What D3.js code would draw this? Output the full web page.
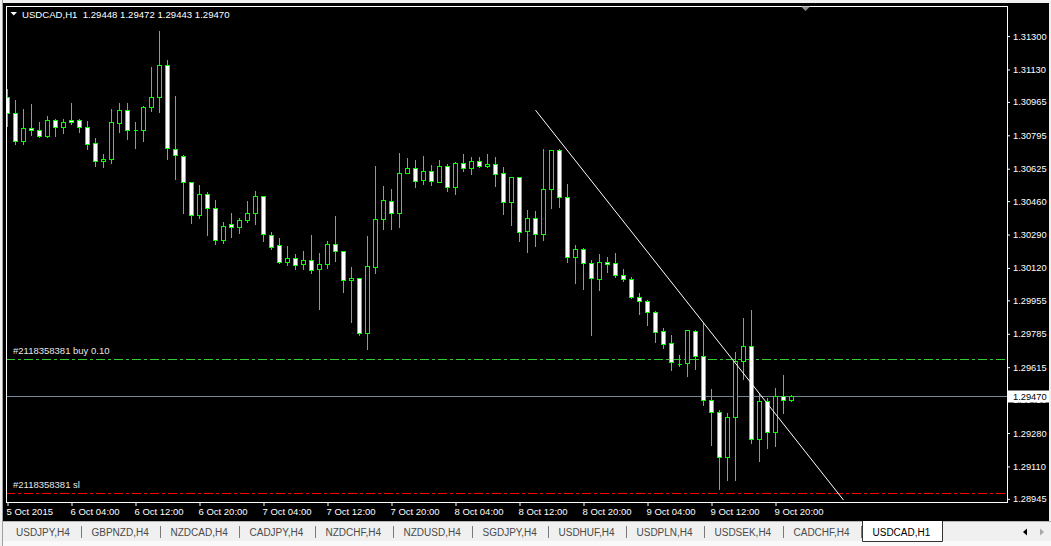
<!DOCTYPE html>
<html><head><meta charset="utf-8">
<script src="https://cdn.jsdelivr.net/npm/d3@7"></script>
<style>
html,body{margin:0;padding:0;background:#f0f0f0;overflow:hidden}
svg{display:block}
text{font-family:"Liberation Sans",Arial,sans-serif}
</style></head><body>
<svg id="c" width="1051" height="546"></svg>
<script>
// ---------- data ----------
const symbol = "USDCAD,H1";
const opens = [1.30988,1.30907,1.30767,1.30830,1.30820,1.30793,1.30873,1.30835,1.30873,1.30873,
1.30835,1.30754,1.30662,1.30673,1.30856,1.30923,1.30820,1.30820,1.30937,1.30988,
1.31151,1.30723,1.30688,1.30559,1.30388,1.30494,1.30423,1.30260,1.30345,1.30327,
1.30362,1.30398,1.30484,1.30286,1.30235,1.30148,1.30169,1.30138,1.30159,1.30113,
1.30138,1.30240,1.30204,1.30057,1.30067,1.29787,1.30123,1.30367,1.30459,1.30398,
1.30601,1.30627,1.30566,1.30611,1.30556,1.30637,1.30530,1.30652,1.30627,1.30662,
1.30637,1.30647,1.30601,1.30454,1.30581,1.30306,1.30372,1.30291,1.30520,1.30718,
1.30479,1.30174,1.30215,1.30143,1.30062,1.30148,1.30143,1.30082,1.30062,1.29970,
1.29950,1.29894,1.29797,1.29736,1.29633,1.29634,1.29797,1.29670,1.29446,1.29385,
1.29156,1.29360,1.29645,1.29721,1.29248,1.29441,1.29283,1.29466,1.29448];
const highs = [1.31030,1.30974,1.30929,1.30954,1.30862,1.30893,1.30878,1.30878,1.30959,1.30878,
1.30866,1.30779,1.30698,1.30929,1.30959,1.30959,1.30862,1.30942,1.31142,1.31325,
1.31176,1.30993,1.30694,1.30559,1.30540,1.30505,1.30464,1.30353,1.30399,1.30372,
1.30459,1.30510,1.30484,1.30303,1.30272,1.30231,1.30189,1.30206,1.30287,1.30196,
1.30257,1.30384,1.30204,1.30124,1.30067,1.30282,1.30638,1.30537,1.30520,1.30705,
1.30679,1.30669,1.30688,1.30642,1.30667,1.30647,1.30657,1.30700,1.30683,1.30683,
1.30700,1.30683,1.30632,1.30581,1.30581,1.30414,1.30408,1.30723,1.30718,1.30723,
1.30545,1.30235,1.30220,1.30159,1.30189,1.30174,1.30194,1.30113,1.30072,1.29991,
1.29955,1.29899,1.29812,1.29777,1.29675,1.29802,1.29802,1.29838,1.29504,1.29395,
1.29380,1.29690,1.29865,1.29904,1.29477,1.29456,1.29507,1.29573,1.29472];
const lows = [1.30844,1.30752,1.30752,1.30796,1.30788,1.30788,1.30793,1.30808,1.30854,1.30813,
1.30727,1.30640,1.30635,1.30655,1.30813,1.30777,1.30732,1.30767,1.30918,1.30915,
1.30676,1.30574,1.30401,1.30350,1.30375,1.30289,1.30243,1.30248,1.30279,1.30299,
1.30355,1.30345,1.30259,1.30218,1.30143,1.30136,1.30116,1.30116,1.30095,1.29912,
1.30121,1.30157,1.29999,1.29846,1.29780,1.29709,1.30095,1.30319,1.30316,1.30327,
1.30601,1.30530,1.30545,1.30540,1.30556,1.30510,1.30494,1.30611,1.30596,1.30632,
1.30632,1.30535,1.30393,1.30340,1.30255,1.30203,1.30230,1.30260,1.30423,1.30428,
1.30148,1.30044,1.30014,1.29777,1.30009,1.30098,1.30072,1.30052,1.29965,1.29884,
1.29828,1.29745,1.29715,1.29600,1.29622,1.29571,1.29607,1.29424,1.29220,1.28996,
1.29042,1.29042,1.29556,1.29230,1.29139,1.29205,1.29215,1.29383,1.29443];
const closes = [1.30907,1.30767,1.30830,1.30820,1.30793,1.30873,1.30835,1.30861,1.30861,1.30835,
1.30749,1.30662,1.30673,1.30861,1.30923,1.30820,1.30820,1.30937,1.30988,1.31151,
1.30729,1.30693,1.30559,1.30388,1.30494,1.30423,1.30260,1.30332,1.30327,1.30362,
1.30398,1.30484,1.30291,1.30228,1.30148,1.30169,1.30133,1.30159,1.30108,1.30138,
1.30240,1.30204,1.30057,1.30067,1.29787,1.30128,1.30367,1.30464,1.30398,1.30601,
1.30627,1.30561,1.30611,1.30561,1.30637,1.30530,1.30652,1.30627,1.30662,1.30637,
1.30647,1.30596,1.30454,1.30581,1.30301,1.30372,1.30291,1.30520,1.30718,1.30479,
1.30174,1.30215,1.30143,1.30067,1.30148,1.30138,1.30082,1.30062,1.29970,1.29950,
1.29894,1.29796,1.29731,1.29640,1.29629,1.29802,1.29670,1.29446,1.29385,1.29156,
1.29360,1.29645,1.29721,1.29248,1.29441,1.29283,1.29466,1.29446,1.29470];

const timeTickIndex = [0,8,16,24,32,40,48,56,64,72,80,88,96];
const timeTickLabels = ["5 Oct 2015","6 Oct 04:00","6 Oct 12:00","6 Oct 20:00","7 Oct 04:00",
  "7 Oct 12:00","7 Oct 20:00","8 Oct 04:00","8 Oct 12:00","8 Oct 20:00","9 Oct 04:00",
  "9 Oct 12:00","9 Oct 20:00"];
const priceTicks = [1.31300,1.31130,1.30965,1.30795,1.30625,1.30460,1.30290,1.30120,
  1.29955,1.29785,1.29615,1.29450,1.29280,1.29110,1.28945];

const bidLevel = 1.29470;
const buyLevel = 1.29655;
const slLevel = 1.28976;
const buyLabel = "#2118358381 buy 0.10";
const slLabel = "#2118358381 sl";
const trendStart = [66, 1.30923];
const trendEnd = [104.5, 1.28939];

const tabNames = ["USDJPY,H4","GBPNZD,H4","NZDCAD,H4","CADJPY,H4","NZDCHF,H4","NZDUSD,H4",
  "SGDJPY,H4","USDHUF,H4","USDPLN,H4","USDSEK,H4","CADCHF,H4"];
const activeTab = "USDCAD,H1";

// ---------- layout ----------
const W = 1051, H = 546;
const L = 6, R = 1007, T = 6, B = 502;
const GREEN = "#00ff00";

const svg = d3.select("#c");
const bars = opens.map((o, i) => ({i, o, h: highs[i], l: lows[i], c: closes[i]}));

const x = d3.scaleLinear().domain([0, bars.length - 1]).range([7.5, 7.5 + 8 * (bars.length - 1)]);
const y = d3.scaleLinear().domain([1.28929, 1.31453]).range([B, T]);

// window background
svg.append("rect").attr("width", W).attr("height", H).attr("fill", "#f0f0f0");
svg.append("rect").attr("x", 3).attr("y", 3).attr("width", 1046).attr("height", 518).attr("fill", "#000");
svg.append("line").attr("x1", 2.5).attr("x2", 2.5).attr("y1", 0).attr("y2", H).attr("stroke", "#a0a0a0");

// clip
svg.append("defs").append("clipPath").attr("id", "plotclip")
  .append("rect").attr("x", L + 1).attr("y", T + 1).attr("width", R - L - 1).attr("height", B - T - 1);

const plot = svg.append("g").attr("clip-path", "url(#plotclip)");

const snap = v => Math.round(y(v)) + 0.5;

// horizontal level lines
plot.append("line").attr("x1", L).attr("x2", R).attr("y1", snap(buyLevel)).attr("y2", snap(buyLevel))
  .attr("stroke", "#32cd32").attr("stroke-dasharray", "9,3,3,3");
plot.append("line").attr("x1", L).attr("x2", R).attr("y1", snap(slLevel)).attr("y2", snap(slLevel))
  .attr("stroke", "#ff0000").attr("stroke-dasharray", "9,3,3,3");
plot.append("line").attr("x1", L).attr("x2", R).attr("y1", snap(bidLevel)).attr("y2", snap(bidLevel))
  .attr("stroke", "#778899");

// candles
const cg = plot.append("g").attr("shape-rendering", "crispEdges");
cg.selectAll("line.wick").data(bars).join("line").attr("class", "wick")
  .attr("x1", d => x(d.i)).attr("x2", d => x(d.i))
  .attr("y1", d => Math.round(y(d.h))).attr("y2", d => Math.round(y(d.l)) + 1)
  .attr("stroke", GREEN);
cg.selectAll("path.body").data(bars).join("path").attr("class", "body")
  .attr("d", d => {
    const cx = x(d.i);
    const t = snap(Math.max(d.o, d.c)), b = snap(Math.min(d.o, d.c));
    return `M${cx - 2},${t}H${cx + 2}V${b}H${cx - 2}Z`;
  })
  .attr("fill", d => d.c > d.o ? "#000" : "#fff")
  .attr("stroke", GREEN);

// trend line
plot.append("line")
  .attr("x1", x(trendStart[0])).attr("y1", y(trendStart[1]))
  .attr("x2", x(trendEnd[0])).attr("y2", y(trendEnd[1]))
  .attr("stroke", "#fff").attr("stroke-width", 1);

// order labels
svg.append("text").attr("x", 13).attr("y", snap(buyLevel) - 6).text(buyLabel)
  .attr("fill", "#e6e6e6").attr("font-size", "9.5px");
svg.append("text").attr("x", 13).attr("y", snap(slLevel) - 6).text(slLabel)
  .attr("fill", "#e6e6e6").attr("font-size", "9.5px");

// frame
svg.append("rect").attr("x", L + 0.5).attr("y", T + 0.5).attr("width", R - L).attr("height", B - T)
  .attr("fill", "none").attr("stroke", "#fff");

// shift marker
svg.append("path").attr("d", "M801,6.5L810,6.5L805.5,11Z").attr("fill", "#8a8a8a");

// right axis
const ya = svg.append("g").attr("transform", `translate(${R},0)`)
  .call(d3.axisRight(y).tickValues(priceTicks).tickFormat(d3.format(".5f")).tickSizeInner(3).tickSizeOuter(0).tickPadding(3));
ya.select(".domain").remove();
ya.selectAll("line").attr("stroke", "#fff");
ya.selectAll("text").attr("fill", "#fff").attr("font-size", "9.3px").attr("font-family", '"Liberation Sans",Arial,sans-serif');

// price box
const pb = snap(bidLevel);
svg.append("rect").attr("x", R + 1).attr("y", pb - 6).attr("width", 41).attr("height", 12).attr("fill", "#fff");
svg.append("text").attr("x", R + 6).attr("y", pb).attr("dy", "0.35em").text(d3.format(".5f")(bidLevel))
  .attr("fill", "#000").attr("font-size", "9.3px");

// bottom axis
const xa = svg.append("g").attr("transform", `translate(0,${B})`)
  .call(d3.axisBottom(x).tickValues(timeTickIndex).tickFormat((d, i) => timeTickLabels[i]).tickSizeInner(4).tickSizeOuter(0).tickPadding(2));
xa.select(".domain").remove();
xa.selectAll("line").attr("stroke", "#fff");
xa.selectAll("text").attr("fill", "#fff").attr("font-size", "9.5px").attr("text-anchor", "start").attr("x", -1.5)
  .attr("font-family", '"Liberation Sans",Arial,sans-serif');

// title
svg.append("path").attr("d", "M10.5,12L17,12L13.75,15.5Z").attr("fill", "#fff");
svg.append("text").attr("x", 22).attr("y", 17.5).style("white-space", "pre")
  .text(`${symbol}  ${[opens[98], highs[98], lows[98], closes[98]].map(d3.format(".5f")).join(" ")}`)
  .attr("fill", "#fff").attr("font-size", "9.6px");

// tab bar
const tb = svg.append("g");
tb.append("rect").attr("x", 3).attr("y", 521).attr("width", W - 3).attr("height", 25).attr("fill", "#f0f0f0");
tb.append("line").attr("x1", 3).attr("x2", W).attr("y1", 521.5).attr("y2", 521.5).attr("stroke", "#b4b4b4");
tb.append("rect").attr("x", 3).attr("y", 541).attr("width", W - 3).attr("height", 5).attr("fill", "#f9f9f9");
let cursor = 16;
tabNames.forEach(name => {
  const t = tb.append("text").attr("x", cursor).attr("y", 535.5).text(name)
    .attr("fill", "#4a4a4a").attr("font-size", "10px");
  const w = t.node().getComputedTextLength();
  const sx = Math.round(cursor + w + 11.5) + 0.5;
  tb.append("line").attr("x1", sx).attr("x2", sx).attr("y1", 526).attr("y2", 538).attr("stroke", "#7a7a7a");
  cursor = sx + 10;
});
{
  const bx = Math.round(cursor - 10 + 0) + 0.5;
  const t = tb.append("text").attr("x", bx + 10).attr("y", 535.5).text(activeTab)
    .attr("fill", "#000").attr("font-size", "10px");
  const w = t.node().getComputedTextLength();
  const bw = Math.round(w + 22);
  tb.insert("path", "text:last-of-type")
    .attr("d", `M${bx},521V541.5H${bx + bw}V521`).attr("fill", "#fff").attr("stroke", "#333");
}
tb.append("path").attr("d", "M1023,532L1027,528.5L1027,535.5Z").attr("fill", "#000");
tb.append("path").attr("d", "M1044,532L1040,528.5L1040,535.5Z").attr("fill", "#a8a8a8");
</script>
</body></html>
